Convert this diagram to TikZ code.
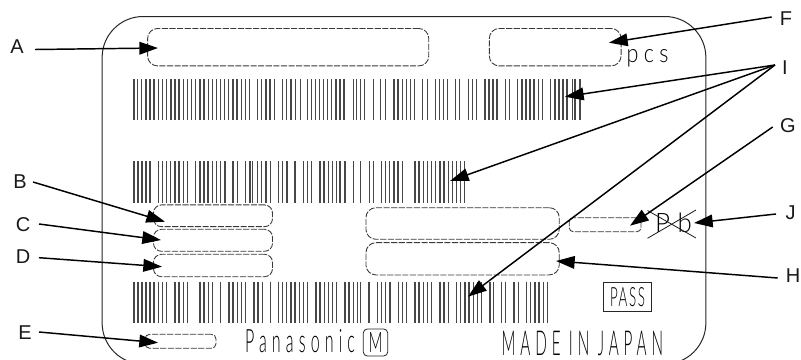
\documentclass[tikz,border=0pt]{standalone}
\usepackage{fontspec}
\usepackage{graphicx}
\setmainfont{Liberation Sans}
\newfontfamily\thinfont[LetterSpace=12]{Lato Light}
\newfontfamily\widefont[LetterSpace=32]{Lato Light}
\usetikzlibrary{arrows.meta}
\newlength\pxu
\setlength\pxu{0.75pt}
\newcommand{\fitbox}[3]{\resizebox{#1\pxu}{#2\pxu}{\thinfont #3}}
\newcommand{\fitwide}[3]{\resizebox{#1\pxu}{#2\pxu}{\widefont #3}}
\tikzset{
  lbl/.style={inner sep=0pt,font=\fontsize{15}{17}\selectfont,text=black!90},
  ptr/.style={line width=1.1pt,-{Triangle[length=14pt,width=9.5pt]},black},
  dbox/.style={draw=black!78,line width=.65pt,dash pattern=on 4.6pt off 1.1pt,inner sep=0pt,outer sep=0pt,rectangle},
  frame/.style={draw=black!85,line width=.75pt,inner sep=0pt,rectangle,minimum width=452.8pt,minimum height=260.6pt,rounded corners=30.75pt},
  barline/.style={draw=black!72,line width=.82pt},
  cross/.style={draw=black!90,line width=.6pt},
  txt/.style={inner sep=0pt,outer sep=0pt,text=black},
  tag/.style={draw=black!85,line width=.6pt,inner sep=0pt,rectangle}
}
\begin{document}
\begin{tikzpicture}[x=0.75pt,y=-0.75pt]
\useasboundingbox (0,0) rectangle (801,360);
\begin{scope}
\clip (0,0) rectangle (801,360);
\node[frame] (outer) at (404,190.25) {};
\end{scope}
% barcodes
\foreach \z in {12,23,35,48,60,72,86,98,110,123,135,147,160,172,185,197,210,222,235,247,259,271,284,296,309,321,334,347,359,383,395,408,420,433,458,470,483,497,512,532,545,557,568,580,593,605,618,630,642,670,680}
  \draw[barline] ({130+\z/3},79) -- ({130+\z/3},120.5);
\foreach \z in {2,14,40,62,77,102,114,127,140,152,164,188,202,226,238,251,263,287,299,325,337,350,375,387,399,411,436,449,473,486,498,510,522,535,547,572,585,597,609,621,638,645,660}
  \draw[barline] ({360+\z/3},79) -- ({360+\z/3},120.5);
\foreach \z in {12,24,36,48,60,85,97,109,122,135,147,160,172,197,210,222,234,247,259,272,285,309,322,347,360,368,382,395,408,421,446,458,471,495,520,532,545,570,582,595,607,620,630,645,670}
  \draw[barline] ({130+\z/3},161.5) -- ({130+\z/3},203);
\foreach \z in {2,28,40,65,77,89,102,114,127,165,177,190,202,215,227,240,252,265,277,290,302,314}
  \draw[barline] ({360+\z/3},161.5) -- ({360+\z/3},203);
\foreach \z in {12,24,36,48,60,72,85,97,110,135,147,160,172,210,222,235,247,272,297,309,322,334,347,372,384,397,421,446,458,470,483,495,508,520,532,558,570,583,595,607,620,645,657,670,682}
  \draw[barline] ({130+\z/3},281.5) -- ({130+\z/3},322.5);
\foreach \z in {2,27,52,65,77,90,115,127,140,165,177,190,202,215,240,252,265,290,302,315,327,340,352,365,390,400,425,437,462,475,500,512,525,537,550,562}
  \draw[barline] ({360+\z/3},281.5) -- ({360+\z/3},322.5);
% dashed fields
\node[dbox,minimum width=210.9pt,minimum height=28.1pt,rounded corners=7.5pt] (bA) at (288.2,47.2) {};
\node[dbox,minimum width=98.8pt,minimum height=28.1pt,rounded corners=7.5pt] (bF) at (555.2,47.2) {};
\node[dbox,minimum width=89.25pt,minimum height=16.3pt,rounded corners=6pt] (bB) at (213,215.8) {};
\node[dbox,minimum width=89.25pt,minimum height=16.5pt,rounded corners=6pt] (bC) at (213,240.3) {};
\node[dbox,minimum width=89.25pt,minimum height=16.8pt,rounded corners=6pt] (bD) at (213,265.5) {};
\node[dbox,minimum width=53.25pt,minimum height=10.5pt,rounded corners=3.5pt] (bE) at (180.5,341.3) {};
\node[dbox,minimum width=145pt,minimum height=23.7pt,rounded corners=7.5pt] (bP) at (462.6,223.5) {};
\node[dbox,minimum width=145pt,minimum height=24.2pt,rounded corners=7.5pt] (bH) at (462.6,258.8) {};
\node[dbox,minimum width=53.8pt,minimum height=10.5pt,rounded corners=3pt] (bG) at (605.1,224.7) {};
% printed text
\node[txt] (pcs) at (647.5,58.5) {\fitwide{42}{13}{p\hspace{.25em}c\hspace{.25em}s}};
\node[txt,anchor=south west] (pana) at (245,353) {\fitwide{110}{23}{Panasonic}};
\node[tag,minimum width=18.3pt,minimum height=20.25pt,rounded corners=3pt] (mbox) at (375.5,342.5) {};
\node[txt] (mark) at (mbox) {\fitbox{14}{20}{M}};
\node[txt,anchor=south west] (made) at (501.7,356) {\fitwide{161.3}{24.3}{MADE\hspace{.55em}IN\hspace{.55em}JAPAN}};
\node[tag,minimum width=36.3pt,minimum height=21.2pt] (passbox) at (627.5,296.8) {};
\node[txt] (pass) at (passbox) {\fitbox{35}{19}{PASS}};
\node[txt,anchor=south west] (pb) at (655,232.5) {\fitbox{37}{19.5}{P\hspace{.3em}b}};
\coordinate (x1) at (647.5,238.3); \coordinate (x2) at (696,210);
\coordinate (x3) at (647.5,210.5); \coordinate (x4) at (696,238);
\draw[cross] (x1) -- (x2);
\draw[cross] (x3) -- (x4);
% labels
\node[lbl] (A) at (17,47) {A};
\node[lbl] (B) at (20,182) {B};
\node[lbl] (C) at (23,225) {C};
\node[lbl] (D) at (23,257) {D};
\node[lbl] (E) at (25,333) {E};
\node[lbl] (F) at (786,19) {F};
\node[lbl] (I) at (785,68) {I};
\node[lbl] (G) at (788,126) {G};
\node[lbl] (J) at (790.7,213) {J};
\node[lbl] (H) at (793,276) {H};
% arrow ends
\coordinate (tA) at (35,49.5);  \coordinate (hA) at (158,48);
\coordinate (tB) at (33,182);   \coordinate (hB) at (165,221.7);
\coordinate (tC) at (39,224);   \coordinate (hC) at (161,240);
\coordinate (tD) at (39,257.7); \coordinate (hD) at (162,266.7);
\coordinate (tE) at (39,332);   \coordinate (hE) at (158,342.7);
\coordinate (tF) at (771.7,17); \coordinate (hF) at (609,42.7);
\coordinate (tI) at (775,65);
\coordinate (hI1) at (565,96.7); \coordinate (hI2) at (450,181); \coordinate (hI3) at (468,296.7);
\coordinate (tG) at (772.7,127); \coordinate (hG) at (630,225.7);
\coordinate (tJ) at (776,214);  \coordinate (hJ) at (694,223);
\coordinate (tH) at (777.7,278); \coordinate (hH) at (556,261);
\draw[ptr] (tA) -- (hA);
\draw[ptr] (tB) -- (hB);
\draw[ptr] (tC) -- (hC);
\draw[ptr] (tD) -- (hD);
\draw[ptr] (tE) -- (hE);
\draw[ptr] (tF) -- (hF);
\draw[ptr] (tI) -- (hI1);
\draw[ptr] (tI) -- (hI2);
\draw[ptr] (tI) -- (hI3);
\draw[ptr] (tG) -- (hG);
\draw[ptr] (tJ) -- (hJ);
\draw[ptr] (tH) -- (hH);
\end{tikzpicture}
\end{document}
